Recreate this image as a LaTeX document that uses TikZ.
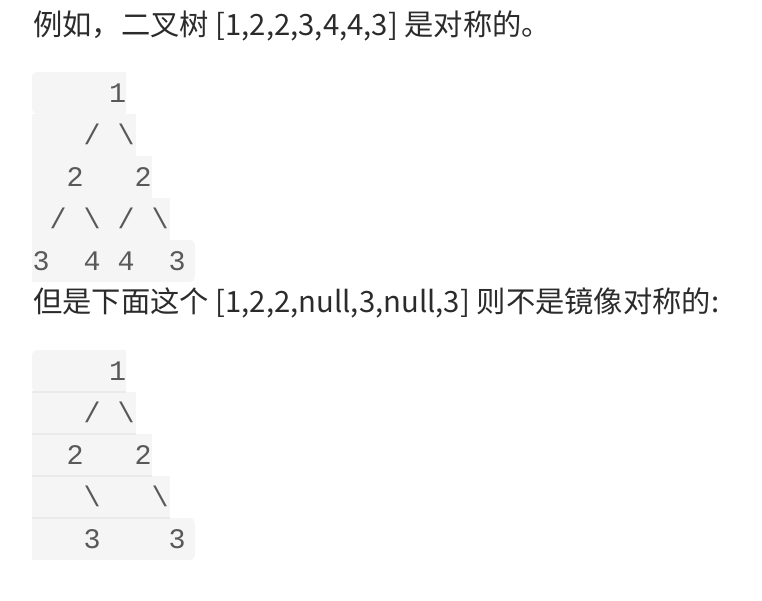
\documentclass[tikz,border=0pt]{standalone}
\usepackage{fontspec}
\setmainfont{Noto Sans CJK SC}
\newfontfamily\codefont{Liberation Mono}
\definecolor{bodytext}{HTML}{2B2B2B}
\definecolor{codetext}{HTML}{595959}
\definecolor{codebg}{HTML}{F5F5F5}
\definecolor{codeseam}{HTML}{EAEAEA}
\begin{document}
\begin{tikzpicture}
        [x=1pt, y=-1pt,
         rowbg/.style={fill=codebg},
         rowseam/.style={fill=codeseam},
         prose/.style={anchor=base west, inner sep=0pt, text=bodytext, font=\fontsize{29.3}{35}\selectfont},
         codeline/.style={anchor=base west, inner sep=0pt, text=codetext, font=\codefont\fontsize{28.33}{34}\selectfont}]

        \useasboundingbox (0,0) rectangle (762,600);

        % row backgrounds of both code blocks
        \foreach \top in {72, 350} {
            \foreach \w [count=\r from 2] in {136, 152, 170}
            \fill[rowbg] (32,\top+42*\r-42) rectangle (\w,\top+42*\r);
            \fill[rowbg] [rounded corners=5pt] (32,\top) rectangle (126,\top+42)
                [sharp corners] (60,\top) rectangle (126,\top+42);
            \fill[rowbg] [rounded corners=5pt] (32,\top+168) rectangle (195,\top+210)
                [sharp corners] (32,\top+168) rectangle (150,\top+210);
        }

        % seams between the rows of the second block
        \foreach \w [count=\r] in {126, 136, 152, 170}
        \fill[rowseam] (32,350+42*\r-0.8) rectangle (\w,350+42*\r+0.8);

        \node[prose] (intro) at (33,35) {例如，二叉树 [1,2,2,3,4,4,3] 是对称的。};
        \node[prose] (counter) at (33,312) {但是下面这个 [1,2,2,null,3,null,3] 则不是镜像对称的:};

        % symmetric tree
        \node[codeline] (sym-1) at (41,102) {~~~~1};
        \foreach \txt [count=\r from 2] in {~~~/~\textbackslash, ~~2~~~2, ~/~\textbackslash~/~\textbackslash, 3~~4~4~~3}
        \node[codeline] (sym-\r) at (32.5,60+42*\r) {\txt};

        % tree that is not a mirror of itself
        \node[codeline] (asym-1) at (41,380) {~~~~1};
        \foreach \txt [count=\r from 2] in {~~~/~\textbackslash, ~~2~~~2, ~~~\textbackslash~~~\textbackslash, ~~~3~~~~3}
        \node[codeline] (asym-\r) at (32.5,338+42*\r) {\txt};

    \end{tikzpicture}
\end{document}
